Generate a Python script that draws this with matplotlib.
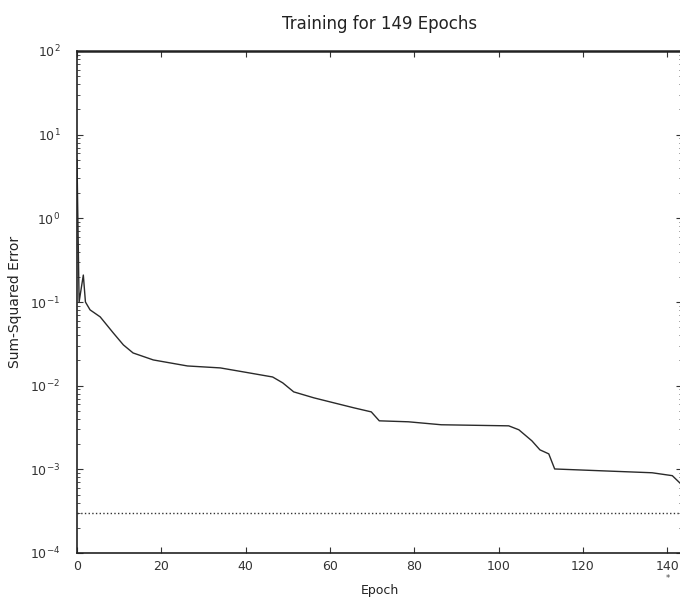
"""Training for 149 Epochs: sum-squared error curve (MATLAB-style scan recreation)."""
import matplotlib
matplotlib.use("Agg")
import matplotlib.pyplot as plt
from matplotlib.ticker import LogLocator, FixedLocator

# ─── data ───
epoch = [0, 0.5, 1.5, 2, 3.1, 5.5, 8.6, 11, 13.3, 18.1, 26.2, 34, 39.5, 46.4,
         48.8, 51.4, 56.2, 61, 65.7, 69.8, 71.7, 78.6, 86.4, 102.4, 104.8,
         107.9, 109.8, 111.9, 113.3, 124.5, 136.4, 141.2, 143.5]
sse = [5.0, 0.10, 0.21, 0.10, 0.0805, 0.0664, 0.0427, 0.0307, 0.0246, 0.0203,
       0.0172, 0.0163, 0.0146, 0.0127, 0.0108, 0.00843, 0.00715, 0.00622,
       0.00543, 0.00486, 0.00380, 0.00370, 0.00341, 0.00331, 0.00297,
       0.00219, 0.00171, 0.00153, 0.00101, 0.00096, 0.00091, 0.00084, 0.00065]
goal = 3e-4
x_ticks = [0, 20, 40, 60, 80, 100, 120, 140]
y_ticks = [1e-4, 1e-3, 1e-2, 1e-1, 1e0, 1e1, 1e2]

plt.rcParams["font.family"] = ["DejaVu Sans"]
plt.rcParams["mathtext.fontset"] = "dejavusans"

fig = plt.figure(figsize=(6.8, 5.99), dpi=100)
fig.patch.set_facecolor("white")
ax = fig.add_axes([77 / 680, 1 - 553 / 599, 605 / 680, 502 / 599])

ax.semilogy(epoch, sse, color="#2a2a2a", lw=1.0)
ax.axhline(goal, color="#333333", lw=1.0, ls=":")

ax.set_xlim(0, 143.5)
ax.set_ylim(1e-4, 1e2)
ax.xaxis.set_major_locator(FixedLocator(x_ticks))
ax.yaxis.set_major_locator(FixedLocator(y_ticks))
ax.yaxis.set_minor_locator(LogLocator(base=10, subs=range(2, 10), numticks=20))

ax.tick_params(which="both", direction="in", top=True, right=True,
               labelsize=9, colors="#333333")
ax.tick_params(which="major", length=4)
ax.tick_params(which="minor", length=2)
ax.tick_params(axis="y", which="major", pad=12)
ax.tick_params(axis="x", which="major", pad=5)
for s in ax.spines.values():
    s.set_color("#222222")
    s.set_linewidth(1.2)
ax.spines["top"].set_linewidth(1.8)

ax.set_title("Training for 149 Epochs", fontsize=12, color="#222222", pad=16)
ax.set_xlabel("Epoch", fontsize=9, color="#222222", labelpad=8)
ax.set_ylabel("Sum-Squared Error", fontsize=10, color="#222222", labelpad=6)

fig.text(668 / 680, 1 - 578 / 599, "*", fontsize=6, ha="center", va="center",
         color="#444444")

fig.savefig("out.png", dpi=100, facecolor="white")
plt.close(fig)
